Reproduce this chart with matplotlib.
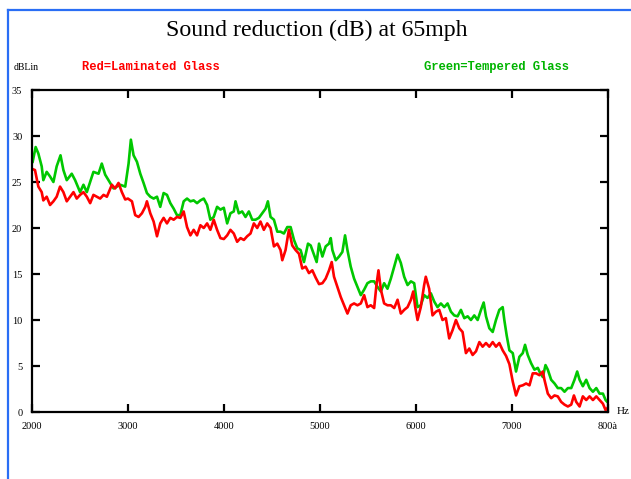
import matplotlib
matplotlib.use('Agg')
import matplotlib.pyplot as plt
from matplotlib.lines import Line2D

plt.rcParams['font.family'] = ['Liberation Serif', 'DejaVu Serif']

# readings (Hz, dB)
green_hz = [2007, 2038, 2066, 2101, 2118, 2153, 2188, 2223, 2257, 2297, 2327, 2362, 2414, 2449, 2501, 2536,
            2571, 2640, 2693, 2727, 2762, 2814, 2849, 2919, 2971, 3006, 3030, 3058, 3093, 3128, 3162, 3197,
            3232, 3267, 3302, 3336, 3371, 3406, 3441, 3476, 3510, 3545, 3580, 3615, 3650, 3684, 3719, 3754,
            3789, 3824, 3858, 3893, 3928, 3963, 3998, 4033, 4067, 4102, 4120, 4154, 4189, 4224, 4259, 4294,
            4328, 4363, 4398, 4433, 4457, 4485, 4520, 4555, 4589, 4624, 4659, 4694, 4729, 4763, 4798, 4833,
            4875, 4903, 4937, 4965, 4990, 5025, 5059, 5094, 5112, 5129, 5164, 5199, 5233, 5261, 5286, 5320,
            5355, 5390, 5425, 5460, 5494, 5529, 5564, 5599, 5634, 5668, 5703, 5738, 5773, 5808, 5842, 5877,
            5912, 5947, 5981, 6016, 6050, 6085, 6120, 6155, 6190, 6224, 6259, 6294, 6329, 6364, 6398, 6433,
            6468, 6503, 6538, 6572, 6607, 6642, 6677, 6705, 6729, 6764, 6799, 6833, 6868, 6903, 6920, 6945,
            6973, 7008, 7042, 7077, 7112, 7136, 7164, 7199, 7234, 7269, 7286, 7321, 7349, 7373, 7408, 7443,
            7477, 7512, 7547, 7582, 7617, 7651, 7679, 7704, 7738, 7773, 7808, 7843, 7878, 7912, 7947, 7975,
            8000]
green_db = [27.2, 28.8, 28.1, 26.7, 25.2, 26.1, 25.6, 25.0, 26.7, 27.9, 26.3, 25.2, 25.9, 25.2, 23.9, 24.7,
            23.9, 26.1, 25.9, 27.0, 25.8, 24.9, 24.3, 24.7, 24.5, 27.0, 29.6, 27.9, 27.2, 25.9, 24.9, 23.8,
            23.4, 23.2, 23.4, 22.3, 23.8, 23.6, 22.7, 22.1, 21.4, 21.4, 22.9, 23.2, 22.9, 23.0, 22.7, 23.0,
            23.2, 22.5, 20.9, 21.2, 22.3, 22.0, 22.2, 20.5, 21.6, 21.8, 22.9, 21.6, 21.8, 21.2, 21.8, 20.9,
            20.9, 21.1, 21.6, 22.1, 22.9, 21.2, 20.9, 19.6, 19.6, 19.4, 20.1, 20.1, 18.7, 17.8, 17.6, 16.3,
            18.3, 18.1, 17.1, 16.3, 18.3, 16.9, 18.0, 18.3, 18.9, 17.6, 16.5, 16.9, 17.4, 19.2, 17.6, 15.8,
            14.5, 13.6, 12.7, 13.3, 14.0, 14.2, 14.2, 13.6, 13.1, 14.0, 13.4, 14.5, 15.8, 17.1, 16.2, 14.7,
            13.8, 14.2, 14.0, 11.4, 11.6, 12.7, 12.4, 12.9, 12.0, 11.4, 11.8, 11.4, 11.8, 10.9, 10.5, 10.4,
            11.1, 10.2, 10.4, 10.0, 10.5, 10.0, 11.1, 11.9, 10.4, 9.1, 8.7, 10.0, 11.1, 11.4, 10.0, 8.3,
            6.7, 6.4, 4.4, 6.0, 6.4, 7.3, 6.2, 5.3, 4.6, 4.8, 4.4, 3.8, 5.1, 4.6, 3.5, 3.1,
            2.6, 2.6, 2.2, 2.6, 2.6, 3.5, 4.4, 3.5, 2.8, 3.5, 2.6, 2.2, 2.6, 2.0, 2.0, 1.3,
            1.0]

red_hz = [2007, 2031, 2066, 2101, 2118, 2153, 2188, 2223, 2257, 2292, 2327, 2362, 2397, 2432, 2466, 2501,
          2536, 2571, 2606, 2640, 2675, 2710, 2745, 2780, 2832, 2866, 2901, 2936, 2971, 2999, 3041, 3075,
          3110, 3145, 3180, 3197, 3232, 3267, 3302, 3336, 3371, 3406, 3441, 3476, 3510, 3545, 3580, 3615,
          3650, 3684, 3719, 3754, 3789, 3824, 3858, 3893, 3928, 3963, 3998, 4033, 4067, 4102, 4137, 4172,
          4207, 4241, 4276, 4311, 4346, 4380, 4415, 4450, 4485, 4520, 4555, 4589, 4607, 4641, 4676, 4711,
          4746, 4781, 4815, 4850, 4885, 4920, 4955, 4990, 5025, 5059, 5094, 5122, 5146, 5181, 5216, 5251,
          5286, 5320, 5355, 5390, 5425, 5460, 5494, 5529, 5564, 5588, 5609, 5634, 5668, 5703, 5738, 5773,
          5808, 5842, 5877, 5912, 5947, 5971, 5992, 6016, 6050, 6085, 6102, 6137, 6172, 6207, 6242, 6276,
          6311, 6346, 6381, 6416, 6451, 6485, 6520, 6555, 6590, 6625, 6660, 6694, 6729, 6764, 6799, 6833,
          6868, 6903, 6938, 6973, 7008, 7042, 7077, 7112, 7147, 7182, 7216, 7251, 7286, 7321, 7338, 7373,
          7408, 7443, 7477, 7512, 7547, 7582, 7617, 7645, 7669, 7704, 7738, 7773, 7808, 7843, 7878, 7912,
          7947, 7975, 8000]
red_db = [26.4, 26.3, 24.5, 23.9, 23.0, 23.4, 22.5, 22.9, 23.4, 24.5, 23.9, 22.9, 23.4, 23.9, 23.2, 23.6,
          23.9, 23.4, 22.7, 23.6, 23.4, 23.2, 23.6, 23.4, 24.7, 24.3, 24.9, 23.9, 23.1, 23.2, 22.9, 21.4,
          21.2, 21.6, 22.3, 22.9, 21.6, 20.7, 19.1, 20.5, 21.1, 20.5, 21.1, 20.9, 21.2, 21.1, 21.8, 20.1,
          19.2, 19.8, 19.2, 20.3, 20.0, 20.5, 19.8, 20.9, 19.8, 18.9, 18.8, 19.2, 19.8, 19.4, 18.5, 18.9,
          18.7, 19.1, 19.4, 20.5, 20.0, 20.7, 19.8, 20.5, 20.0, 18.0, 18.3, 17.6, 16.5, 17.6, 19.8, 18.1,
          17.6, 17.2, 15.6, 15.8, 15.1, 15.4, 14.6, 13.9, 14.0, 14.5, 15.4, 16.3, 14.7, 13.6, 12.5, 11.6,
          10.7, 11.6, 11.8, 11.6, 11.8, 12.7, 11.4, 11.6, 11.3, 13.8, 15.4, 13.3, 11.8, 11.6, 11.6, 11.3,
          12.2, 10.7, 11.1, 11.4, 12.2, 13.1, 11.4, 10.0, 11.4, 13.8, 14.7, 13.4, 10.5, 10.9, 11.1, 10.0,
          10.2, 8.0, 8.9, 10.0, 9.1, 8.7, 6.4, 6.9, 6.2, 6.6, 7.6, 7.1, 7.5, 7.1, 7.6, 7.1,
          7.5, 6.7, 6.1, 5.2, 3.3, 1.8, 2.8, 2.9, 3.1, 2.9, 4.2, 4.2, 4.0, 4.4, 3.5, 2.0,
          1.5, 1.8, 1.7, 1.1, 0.8, 0.6, 0.8, 1.8, 1.1, 0.6, 1.7, 1.3, 1.7, 1.3, 1.7, 1.3,
          0.9, 0.2, 0.5]

xticks = [2000, 3000, 4000, 5000, 6000, 7000, 8000]
xlabels = ['2000', '3000', '4000', '5000', '6000', '7000', '800\u00e0']
yticks = [0, 5, 10, 15, 20, 25, 30, 35]

W, H = 631, 479
fig = plt.figure(figsize=(W / 100, H / 100), dpi=100)
ax = fig.add_axes([32 / W, 1 - 412 / H, (608 - 32) / W, (412 - 90) / H])

ax.plot(green_hz, green_db, color='#00c800', lw=1.9, zorder=2)
ax.plot(red_hz, red_db, color='#ff0000', lw=1.9, zorder=3)

ax.set_xlim(2000, 8000)
ax.set_ylim(0, 35)
ax.set_xticks(xticks)
ax.set_xticklabels(xlabels)
ax.set_yticks(yticks)
for s in ax.spines.values():
    s.set_linewidth(1.6)
    s.set_zorder(4)
ax.tick_params(direction='in', length=6, width=1.6, top=True, right=True,
               labelsize=7.5, pad=7)

# texts around the plot
fig.text(317 / W, 1 - 30 / H, 'Sound reduction (dB) at 65mph', ha='center', va='center', fontsize=17.2)
fig.text(14 / W, 1 - 67 / H, 'dBLin', ha='left', va='center', fontsize=7)
fig.text(82 / W, 1 - 67 / H, 'Red=Laminated Glass', ha='left', va='center', fontsize=8.7,
         family='Liberation Mono', weight='bold', color='#ff0000')
fig.text(424 / W, 1 - 67 / H, 'Green=Tempered Glass', ha='left', va='center', fontsize=8.7,
         family='Liberation Mono', weight='bold', color='#00b400')
fig.text(617 / W, 1 - 412 / H, 'Hz', ha='left', va='center', fontsize=8)

# blue frame on the left and top
fig.add_artist(Line2D([8 / W, 8 / W], [0, 1 - 10 / H], color='#2a6ef5', lw=1.6))
fig.add_artist(Line2D([8 / W, 1], [1 - 10 / H, 1 - 10 / H], color='#2a6ef5', lw=1.6))

fig.savefig('out.png', dpi=100)
